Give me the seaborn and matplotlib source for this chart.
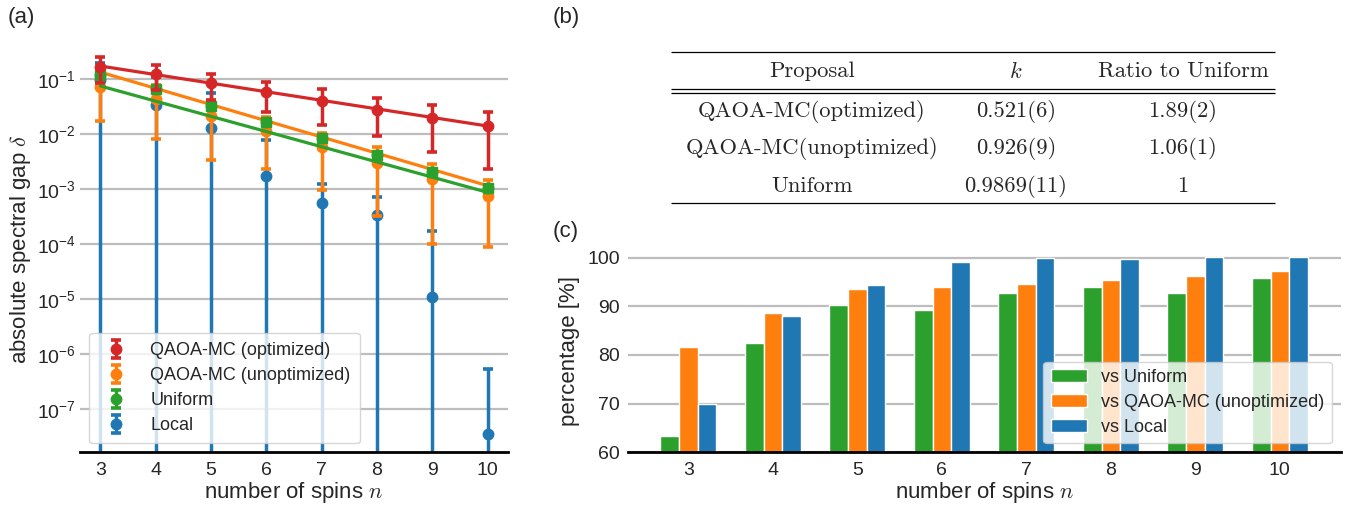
import numpy as np
import pandas as pd
import matplotlib
matplotlib.use("Agg")
import matplotlib.pyplot as plt
from matplotlib.ticker import NullLocator, FixedLocator
import seaborn as sns

# ---------------- data ----------------
spins = [3, 4, 5, 6, 7, 8, 9, 10]

opt_mean = [0.167, 0.122, 0.0834, 0.0573, 0.0398, 0.0273, 0.0193, 0.0138]
opt_err = [0.084, 0.058, 0.042, 0.032, 0.025, 0.018, 0.0145, 0.0115]

unopt_mean = [0.0724, 0.0427, 0.0216, 0.01135, 0.00575, 0.00302, 0.0015, 0.00076]
unopt_err = [0.055, 0.0346, 0.0182, 0.0090, 0.0048, 0.0027, 0.0014, 0.00067]

unif_mean = [0.12, 0.065, 0.0327, 0.0168, 0.0083, 0.0041, 0.0020, 0.00103]
unif_err = [0.004, 0.002, 0.001, 0.0005, 0.00025, 0.00012, 0.00006, 0.00003]

local_mean = [0.095, 0.033, 0.0127, 0.00174, 0.00055, 0.00033, 1.07e-5, 3.55e-8]
local_err = [0.1, 0.075, 0.042, 0.006, 0.0007, 0.0004, 0.000164, 4.9e-7]

fit_n = [3, 10]
opt_fit = [0.172, 0.01397]
unopt_fit = [0.133, 0.00115]
unif_fit = [0.0746, 0.00087]

series_labels = ["QAOA-MC (optimized)", "QAOA-MC (unoptimized)", "Uniform", "Local"]

table_header = ["Proposal", "$k$", "Ratio to Uniform"]
table_proposal = ["QAOA-MC(optimized)", "QAOA-MC(unoptimized)", "Uniform"]
table_k = ["0.521(6)", "0.926(9)", "0.9869(11)"]
table_ratio = ["1.89(2)", "1.06(1)", "1"]

bar_groups = ["vs Uniform", "vs QAOA-MC (unoptimized)", "vs Local"]
pct_vs_uniform = [63.4, 82.4, 90.2, 89.2, 92.7, 93.95, 92.7, 95.8]
pct_vs_unopt = [81.6, 88.6, 93.5, 93.95, 94.6, 95.4, 96.3, 97.2]
pct_vs_local = [70.0, 88.0, 94.35, 99.1, 99.95, 99.7, 100.2, 100.2]

# ---------------- style ----------------
sns.set_style("whitegrid", {"grid.color": "#bdbdbd"})
plt.rcParams["font.family"] = ["Liberation Sans", "DejaVu Sans"]
plt.rcParams["mathtext.fontset"] = "cm"
plt.rcParams["axes.unicode_minus"] = False

RED, ORANGE, GREEN, BLUE = "#d62728", "#ff7f0e", "#2ca02c", "#1f77b4"
TICK_FS, LABEL_FS, LEG_FS = 14, 16, 13

W, H = 1355, 509
fig = plt.figure(figsize=(W / 100, H / 100), dpi=100)


def px_rect(x0, y0, x1, y1):
    return [x0 / W, 1 - y1 / H, (x1 - x0) / W, (y1 - y0) / H]


# ---------------- panel (a) ----------------
axa = fig.add_axes(px_rect(80, 46, 508, 452.3))
axa.set_yscale("log")

ekw = dict(markersize=7.5, elinewidth=2.5, capsize=3.9, capthick=2.6, linestyle="none")
axa.errorbar(spins, local_mean, yerr=local_err, fmt="o", color=BLUE, zorder=2,
             label=series_labels[3], **ekw)
axa.errorbar(spins, unopt_mean, yerr=unopt_err, fmt="o", color=ORANGE, zorder=3,
             label=series_labels[1], **ekw)
axa.errorbar(spins, unif_mean, yerr=unif_err, fmt="o", color=GREEN, zorder=4,
             label=series_labels[2], **ekw)
axa.plot(spins, unif_mean, "s", color=GREEN, markersize=7.8, zorder=4.1)
axa.errorbar(spins, opt_mean, yerr=opt_err, fmt="o", color=RED, zorder=5,
             label=series_labels[0], **ekw)

fits = pd.DataFrame({
    "n": fit_n * 3,
    "gap": opt_fit + unopt_fit + unif_fit,
    "series": [series_labels[0]] * 2 + [series_labels[1]] * 2 + [series_labels[2]] * 2,
})
sns.lineplot(data=fits, x="n", y="gap", hue="series",
             palette={series_labels[0]: RED, series_labels[1]: ORANGE, series_labels[2]: GREEN},
             linewidth=2.3, legend=False, ax=axa, zorder=3.5)

axa.set_xlim(2.63, 10.37)
axa.set_ylim(10 ** -7.787, 10 ** -0.4)
axa.yaxis.set_major_locator(FixedLocator([1e-7, 1e-6, 1e-5, 1e-4, 1e-3, 1e-2, 1e-1]))
axa.yaxis.set_minor_locator(NullLocator())
axa.set_xticks(spins)
axa.grid(axis="x", visible=False)
axa.grid(axis="y", color="#bdbdbd", linewidth=1.6)
for s in ["left", "right", "top"]:
    axa.spines[s].set_visible(False)
axa.spines["bottom"].set_color("black")
axa.spines["bottom"].set_linewidth(2)
axa.tick_params(axis="both", labelsize=TICK_FS, length=0)
axa.tick_params(axis="x", pad=7)
axa.tick_params(axis="y", pad=3)
axa.set_xlabel("number of spins $n$", fontsize=LABEL_FS, labelpad=1)
axa.set_ylabel(r"absolute spectral gap $\delta$", fontsize=LABEL_FS, labelpad=3)

h, l = axa.get_legend_handles_labels()
order = [l.index(s) for s in series_labels]
leg = axa.legend([h[i] for i in order], [l[i] for i in order], loc="lower left",
                 fontsize=LEG_FS, frameon=True, framealpha=0.8, edgecolor="#cccccc",
                 borderaxespad=0.5, labelspacing=0.45, handletextpad=0.9, borderpad=0.5)
leg.set_zorder(10)

# ---------------- panel (b) : table ----------------
axb = fig.add_axes([0, 0, 1, 1], zorder=-1)
axb.set_xlim(0, W)
axb.set_ylim(H, 0)
axb.axis("off")
axb.patch.set_alpha(0)

rule_x0, rule_x1 = 670.7, 1275
for yy in [51.7, 89.3, 93.3, 203.3]:
    axb.plot([rule_x0, rule_x1], [yy, yy], color="black", linewidth=0.9, solid_capstyle="butt")

col_x = [812, 1016, 1183]
row_y = [111.7, 149.0, 186.7]
tkw = dict(ha="center", va="center", fontsize=16.3, family="cmr10")
for cx, txt in zip(col_x, table_header):
    axb.text(cx, 71.2, txt, **tkw)
for i, ry in enumerate(row_y):
    axb.text(col_x[0], ry, table_proposal[i], **tkw)
    axb.text(col_x[1], ry, table_k[i], **tkw)
    axb.text(col_x[2], ry, table_ratio[i], **tkw)

# ---------------- panel (c) ----------------
axc = fig.add_axes(px_rect(628.3, 250.4, 1340.7, 452.3))
bars = pd.DataFrame({
    "n": [str(v) for v in spins] * 3,
    "pct": pct_vs_uniform + pct_vs_unopt + pct_vs_local,
    "comparison": [bar_groups[0]] * 8 + [bar_groups[1]] * 8 + [bar_groups[2]] * 8,
})
sns.barplot(data=bars, x="n", y="pct", hue="comparison", hue_order=bar_groups,
            palette=[GREEN, ORANGE, BLUE], saturation=1, width=0.66,
            edgecolor="white", linewidth=1.0, ax=axc, zorder=2)
axc.set_ylim(60, 101.5)
axc.set_xlim(-0.71, 7.72)
axc.set_yticks([60, 70, 80, 90, 100])
axc.grid(axis="x", visible=False)
axc.grid(axis="y", color="#bdbdbd", linewidth=1.6)
axc.set_axisbelow(True)
for s in ["left", "right", "top"]:
    axc.spines[s].set_visible(False)
axc.spines["bottom"].set_color("black")
axc.spines["bottom"].set_linewidth(2)
axc.tick_params(axis="both", labelsize=TICK_FS, length=0)
axc.tick_params(axis="x", pad=7)
axc.tick_params(axis="y", pad=6)
axc.set_xlabel("number of spins $n$", fontsize=LABEL_FS, labelpad=1)
axc.set_ylabel("percentage [%]", fontsize=LABEL_FS, labelpad=5)
legc = axc.legend(loc="lower right", fontsize=LEG_FS, frameon=True, framealpha=0.8,
                  edgecolor="#cccccc", title=None, borderaxespad=0.5, labelspacing=0.45)
legc.set_zorder(10)

# ---------------- panel labels ----------------
fig.text(8 / W, 1 - 18 / H, "(a)", fontsize=16, ha="left", va="center")
fig.text(553 / W, 1 - 18 / H, "(b)", fontsize=16, ha="left", va="center")
fig.text(553 / W, 1 - 232 / H, "(c)", fontsize=16, ha="left", va="center")

fig.savefig("out.png", dpi=100)
